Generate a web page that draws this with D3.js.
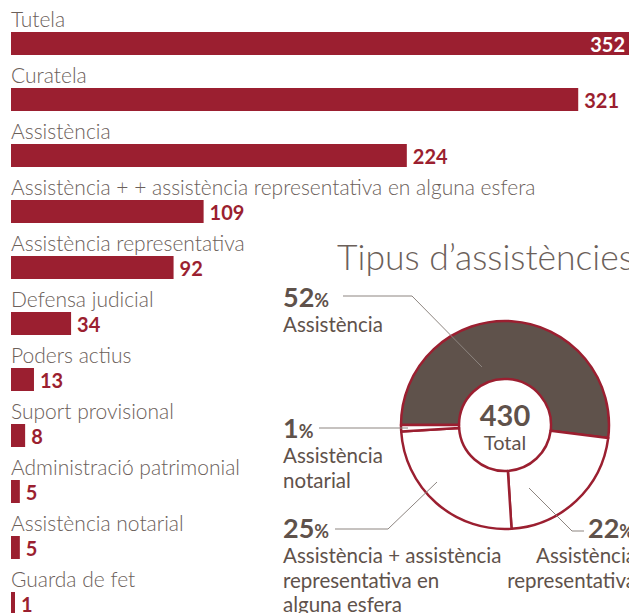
<!DOCTYPE html>
<html>
<head>
<meta charset="utf-8">
<script src="https://cdn.jsdelivr.net/npm/d3@7"></script>
<style>
  html, body { margin: 0; padding: 0; background: #fff; overflow: hidden; }
  svg { display: block; font-family: Lato, "Open Sans", sans-serif; }
</style>
</head>
<body>
<div id="chart"></div>
<script>
// bar data
const categories = [
  "Tutela",
  "Curatela",
  "Assistència",
  "Assistència + + assistència representativa en alguna esfera",
  "Assistència representativa",
  "Defensa judicial",
  "Poders actius",
  "Suport provisional",
  "Administració patrimonial",
  "Assistència notarial",
  "Guarda de fet"
];
const counts = [352, 321, 224, 109, 92, 34, 13, 8, 5, 5, 1];

// donut data
const pieTitle = "Tipus d’assistències";
const pieNames = [
  ["Assistència"],
  ["Assistència", "representativa"],
  ["Assistència + assistència", "representativa en", "alguna esfera"],
  ["Assistència", "notarial"]
];
const pieShares = [52, 22, 25, 1];
const pieTotal = 430;
const totalLabel = "Total";

const W = 629, H = 613;
const red = "#9b1f30", brown = "#5f524b", grey = "#6b605a";

const svg = d3.select("#chart").append("svg")
  .attr("width", W)
  .attr("height", H);

// ---- bars ----
const x = d3.scaleLinear().domain([0, 352]).range([11, 633]);
const y = d3.scaleBand().domain(categories).range([0, 56 * categories.length]);

const row = svg.selectAll("g.row")
  .data(categories.map((c, i) => ({ name: c, value: counts[i] })))
  .enter()
  .append("g")
  .attr("class", "row")
  .attr("transform", (d) => `translate(0, ${y(d.name)})`);

row.append("text")
  .attr("x", 11)
  .attr("y", 27)
  .attr("font-size", 21)
  .attr("font-weight", 300)
  .attr("fill", grey)
  .text((d) => d.name);

row.append("rect")
  .attr("x", x(0))
  .attr("y", 32)
  .attr("width", (d) => Math.max(4, x(d.value) - x(0)))
  .attr("height", 23)
  .attr("fill", red);

row.append("text")
  .attr("font-size", 20)
  .attr("font-weight", 700)
  .attr("y", 52)
  .each(function (d) {
    const t = d3.select(this).text(d.value);
    const w = this.getComputedTextLength();
    const end = Math.max(4, x(d.value) - x(0)) + 11;
    if (end + 6 + w > W) {
      t.attr("x", W - 4).attr("text-anchor", "end").attr("fill", "#fff");
    } else {
      t.attr("x", end + 6).attr("fill", red);
    }
  });

// ---- donut ----
svg.append("text")
  .attr("x", 337)
  .attr("y", 270)
  .attr("font-size", 35.5)
  .attr("font-weight", 300)
  .attr("fill", grey)
  .text(pieTitle);

const cx = 505, cy = 425, R = 104, r = 46;
const pie = d3.pie().sort(null).startAngle(-Math.PI / 2).endAngle(1.5 * Math.PI);
const arcs = pie(pieShares);
const arc = d3.arc().innerRadius(r).outerRadius(R);

const donut = svg.append("g").attr("transform", `translate(${cx}, ${cy})`);
donut.selectAll("path")
  .data(arcs)
  .enter()
  .append("path")
  .attr("d", arc)
  .attr("fill", (d, i) => i === 0 ? brown : "#fff")
  .attr("stroke", red)
  .attr("stroke-width", 2.5)
  .attr("stroke-linejoin", "round");

donut.append("text")
  .attr("text-anchor", "middle")
  .attr("y", 1)
  .attr("font-size", 29)
  .attr("font-weight", 700)
  .attr("fill", brown)
  .text(pieTotal);

donut.append("text")
  .attr("text-anchor", "middle")
  .attr("y", 25)
  .attr("font-size", 20)
  .attr("fill", brown)
  .text(totalLabel);

// callout layout (order matches pieShares)
const callouts = [
  { tx: 283, ty: 307, line: [[343, 296], [412, 296], [482, 367]] },
  { tx: 588, ty: 538, nameX: 636, nameAnchor: "end", line: [[584, 531], [572, 531], [529, 488]] },
  { tx: 283, ty: 538, line: [[335, 529], [388, 529], [437, 482]] },
  { tx: 283, ty: 438, line: [[319, 428], [408, 428]] }
];

callouts.forEach((c, i) => {
  svg.append("polyline")
    .attr("points", c.line.map((p) => p.join(",")).join(" "))
    .attr("fill", "none")
    .attr("stroke", "#8d8580")
    .attr("stroke-width", 1);

  const pct = svg.append("text")
    .attr("x", c.tx)
    .attr("y", c.ty)
    .attr("fill", brown)
    .attr("font-weight", 700);
  pct.append("tspan").attr("font-size", 27).text(pieShares[i]);
  pct.append("tspan").attr("font-size", 18).text("%");

  pieNames[i].forEach((line, j) => {
    svg.append("text")
      .attr("x", c.nameX || c.tx)
      .attr("y", c.ty + 25 + j * 24.5)
      .attr("text-anchor", c.nameAnchor || "start")
      .attr("font-size", 20.5)
      .attr("fill", brown)
      .text(line);
  });
});
</script>
</body>
</html>
